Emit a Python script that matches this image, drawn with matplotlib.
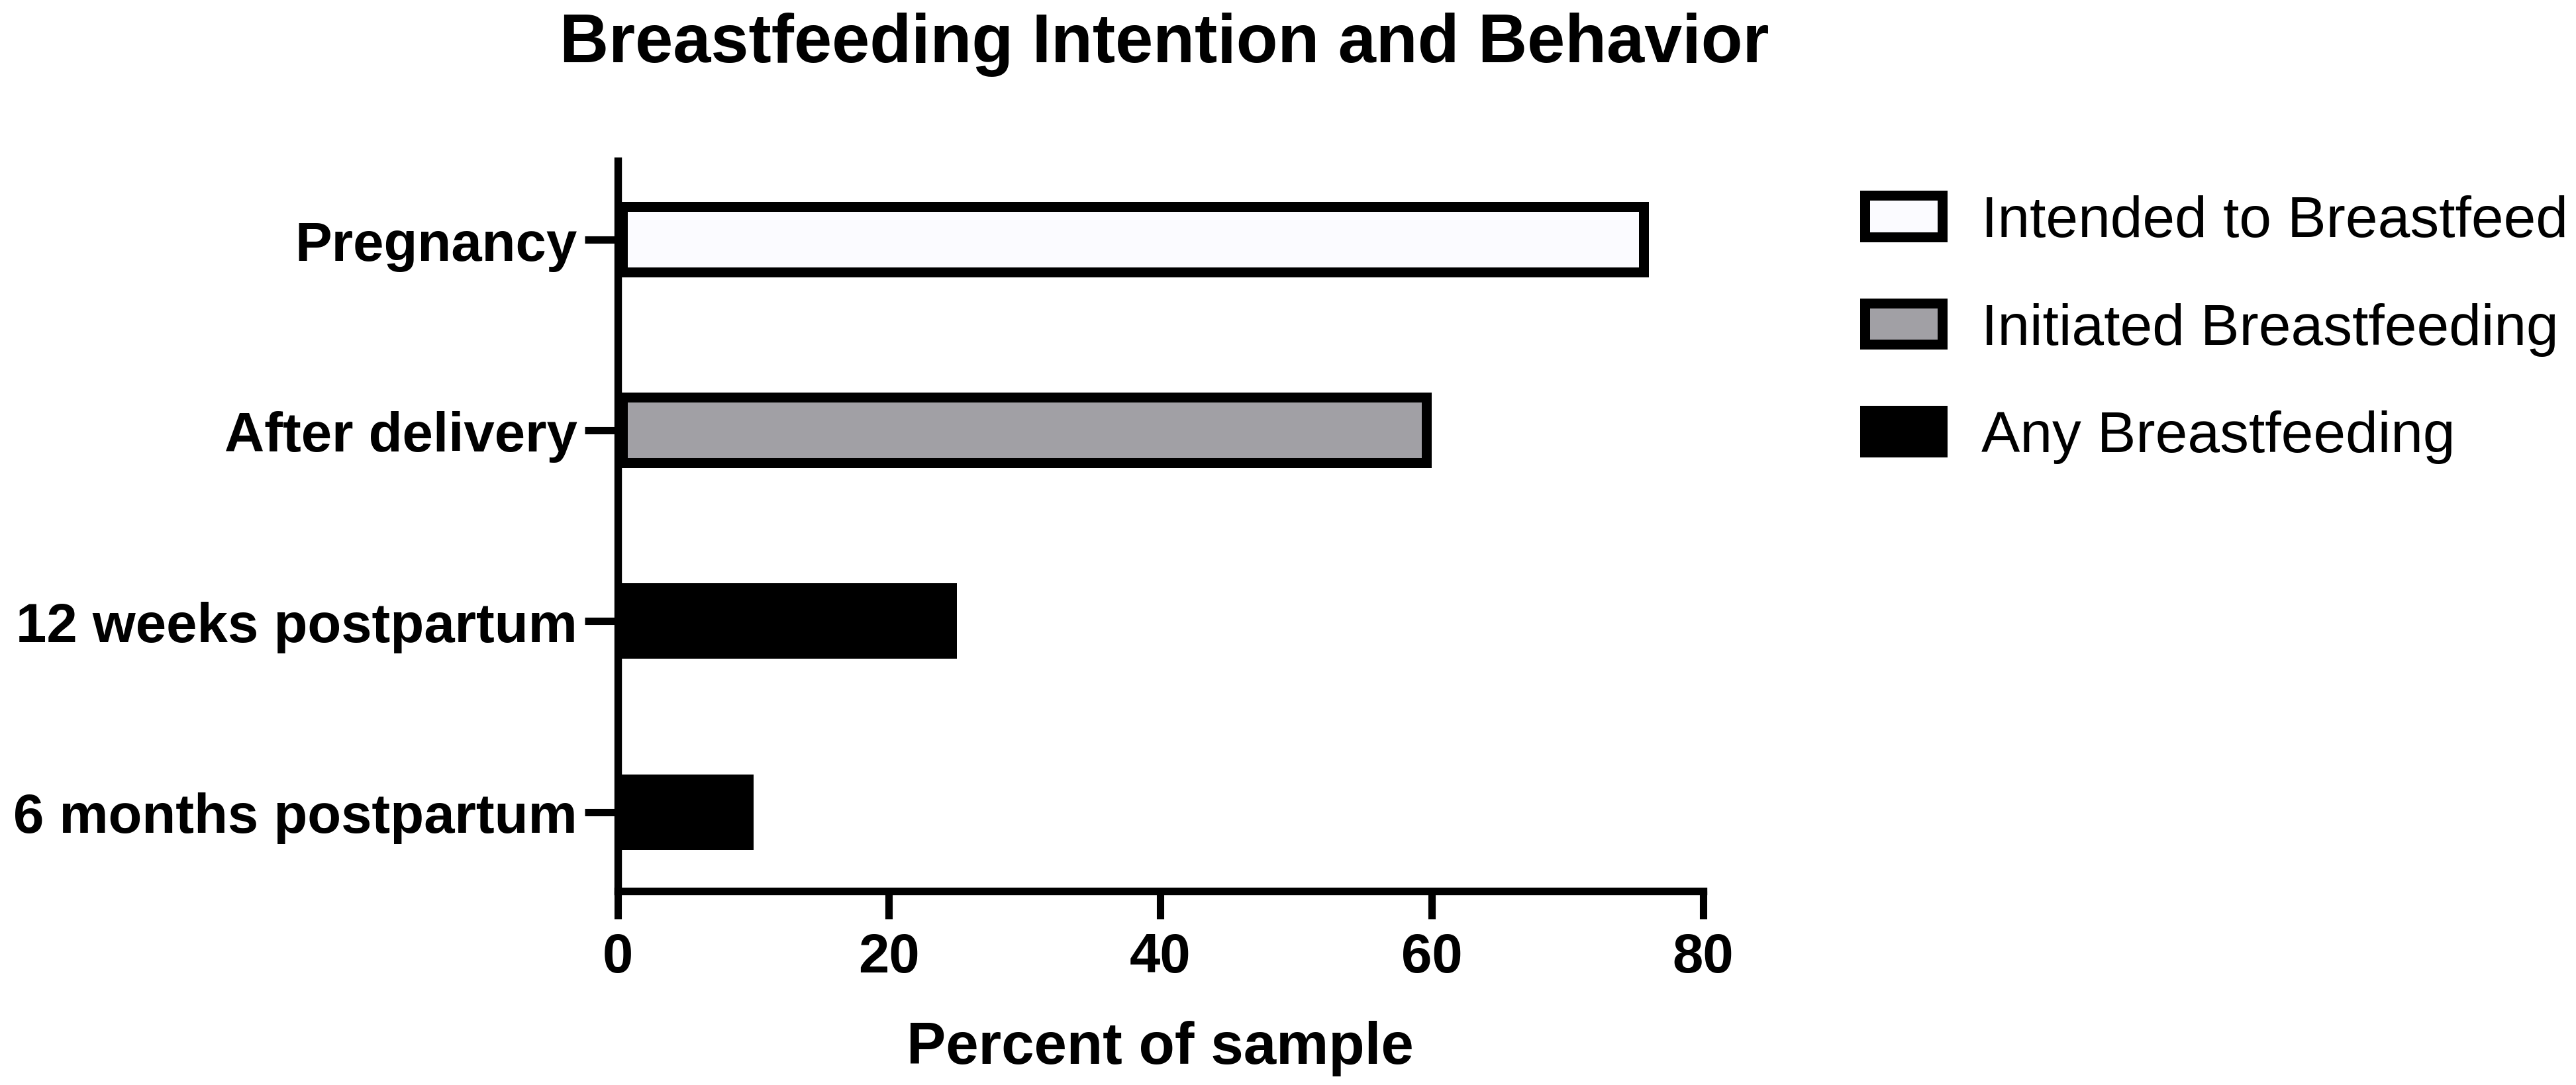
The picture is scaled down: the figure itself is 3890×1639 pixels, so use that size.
import matplotlib.pyplot as plt
from matplotlib.patches import Patch

plt.rcParams["font.family"] = ["Liberation Sans", "DejaVu Sans"]

categories = ["Pregnancy", "After delivery", "12 weeks postpartum", "6 months postpartum"]
values = [76, 60, 25, 10]
series = ["Intended to Breastfeed", "Initiated Breastfeeding", "Any Breastfeeding", "Any Breastfeeding"]
legend_order = ["Intended to Breastfeed", "Initiated Breastfeeding", "Any Breastfeeding"]
series_colors = {
    "Intended to Breastfeed": "#fbfbff",
    "Initiated Breastfeeding": "#a1a0a5",
    "Any Breastfeeding": "black",
}
x_ticks = [0, 20, 40, 60, 80]

fig = plt.figure(figsize=(19.455, 8.2), dpi=200)
ax = fig.add_axes([0.2397, 0.1787, 0.4212, 0.6727])

# border drawn inside the bar (clip the stroke to the bar itself)
for i, (cat, v, s) in enumerate(zip(categories, values, series)):
    bars = ax.barh(i, v, height=0.396, color=series_colors[s], edgecolor="black",
                   linewidth=10.8)
    for b in bars:
        b.set_clip_path(b)

ax.set_ylim(3.414, -0.414)
ax.set_xlim(0, 80)
ax.set_yticks(range(len(categories)))
ax.set_yticklabels(categories, fontsize=30, fontweight="bold")
ax.set_xticks(x_ticks)
ax.set_xticklabels([str(t) for t in x_ticks], fontsize=30, fontweight="bold")

for side in ["top", "right"]:
    ax.spines[side].set_visible(False)
for side in ["left", "bottom"]:
    ax.spines[side].set_linewidth(4.1)
    ax.spines[side].set_capstyle("projecting")

ax.tick_params(axis="y", length=18, width=4, pad=4)
ax.tick_params(axis="x", length=15, width=4, pad=7)

ax.set_xlabel("Percent of sample", fontsize=32, fontweight="bold", labelpad=20)

fig.text(0.4518, 0.9427, "Breastfeeding Intention and Behavior", fontsize=37,
         fontweight="bold", ha="center", va="baseline")

handles = [Patch(facecolor=series_colors[s], edgecolor="black", linewidth=5.4)
           for s in legend_order]
ax.legend(handles, legend_order, loc="upper left", bbox_to_anchor=(0.7238, 0.82),
          bbox_transform=fig.transFigure, frameon=False, fontsize=31.5,
          handlelength=1.33, handleheight=0.72, handletextpad=0.68,
          labelspacing=0.93, borderaxespad=0, borderpad=0)

fig.savefig("out.png", dpi=200)
